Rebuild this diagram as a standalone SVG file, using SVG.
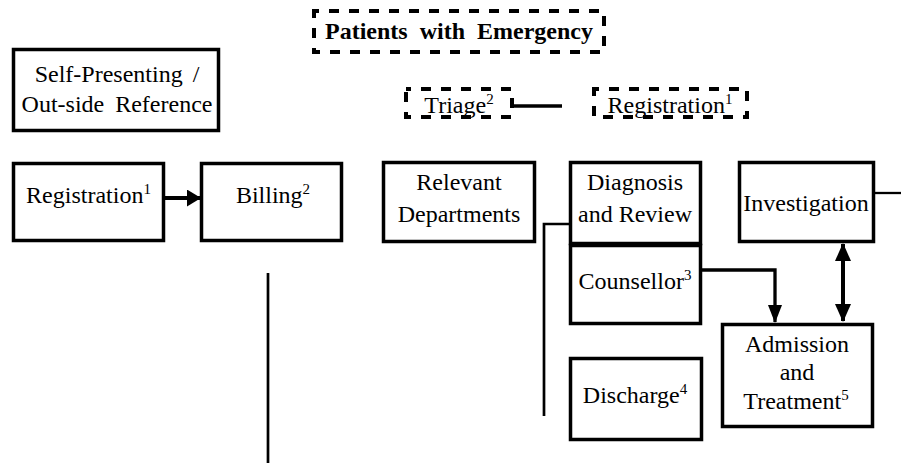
<svg xmlns="http://www.w3.org/2000/svg" width="901" height="463" viewBox="0 0 901 463">
<style>
.box{fill:#fff;stroke:#000;stroke-width:3.5}
.dash{fill:none;stroke:#000;stroke-width:4;stroke-dasharray:10 10;stroke-dashoffset:5}
text{font-family:"Liberation Serif","Times New Roman",serif;font-size:24px;fill:#000;text-anchor:middle}
.b{font-weight:bold}
.sup{font-size:15px}
.ln{fill:none;stroke:#000}
</style>
<defs>
<marker id="ah" viewBox="0 0 14 17" refX="13" refY="8.5" markerWidth="14" markerHeight="17" orient="auto" markerUnits="userSpaceOnUse">
<path d="M0,0 L14,8.5 L0,17 z" fill="#000"/>
</marker>
<marker id="dbe" viewBox="0 0 18 16" refX="17" refY="8" markerWidth="18" markerHeight="16" orient="auto" markerUnits="userSpaceOnUse">
<path d="M0,0 L18,8 L0,16 z" fill="#000"/>
</marker>
<marker id="dbs" viewBox="0 0 18 16" refX="1" refY="8" markerWidth="18" markerHeight="16" orient="auto" markerUnits="userSpaceOnUse">
<path d="M18,0 L0,8 L18,16 z" fill="#000"/>
</marker>
<marker id="ah2" viewBox="0 0 18 14" refX="17" refY="7" markerWidth="18" markerHeight="14" orient="auto" markerUnits="userSpaceOnUse">
<path d="M0,0 L18,7 L0,14 z" fill="#000"/>
</marker>
</defs>
<g id="connectors">
<line class="ln" x1="165" y1="198" x2="200" y2="198" stroke-width="4" marker-end="url(#ah)"/>
<line class="ln" x1="513" y1="106" x2="562" y2="106" stroke-width="3.5"/>
<polyline class="ln" points="569,224 544,224 544,416" stroke-width="2.7"/>
<line class="ln" x1="268" y1="273" x2="268" y2="463" stroke-width="2.7"/>
<polyline class="ln" points="702,270 775,270 775,322" stroke-width="3.3" marker-end="url(#ah2)"/>
<line class="ln" x1="843" y1="244" x2="843" y2="321" stroke-width="4" marker-start="url(#dbs)" marker-end="url(#dbe)"/>
<line class="ln" x1="875" y1="193" x2="901" y2="193" stroke-width="2.3"/>
</g>
<g id="emergency">
<rect class="dash" x="314" y="11" width="290" height="41"/>
<text class="b" x="459" y="39" word-spacing="6">Patients with Emergency</text>
</g>
<g id="self">
<rect class="box" x="13.5" y="49.5" width="205" height="81"/>
<text x="117" y="82" word-spacing="4">Self-Presenting /</text>
<text x="117" y="112" word-spacing="5">Out-side Reference</text>
</g>
<g id="triage">
<rect class="dash" x="406" y="89" width="106" height="28"/>
<text x="459" y="113">Triage<tspan class="sup" dy="-9">2</tspan></text>
</g>
<g id="registration-em">
<rect class="dash" x="594" y="89" width="153" height="28"/>
<text x="670" y="113">Registration<tspan class="sup" dy="-9">1</tspan></text>
</g>
<g id="registration">
<rect class="box" x="13.5" y="163.5" width="150" height="77"/>
<text x="88.5" y="203">Registration<tspan class="sup" dy="-9">1</tspan></text>
</g>
<g id="billing">
<rect class="box" x="201.5" y="163.5" width="140" height="77"/>
<text x="273" y="203">Billing<tspan class="sup" dy="-9">2</tspan></text>
</g>
<g id="relevant">
<rect class="box" x="383.5" y="162.5" width="151" height="79"/>
<text x="459" y="190">Relevant</text>
<text x="459" y="222">Departments</text>
</g>
<g id="diagnosis">
<rect class="box" x="570.5" y="162.5" width="130" height="81"/>
<text x="635" y="190">Diagnosis</text>
<text x="635" y="222">and Review</text>
</g>
<g id="counsellor">
<rect class="box" x="570.5" y="245.5" width="130" height="78"/>
<text x="635" y="289">Counsellor<tspan class="sup" dy="-9">3</tspan></text>
</g>
<g id="investigation">
<rect class="box" x="739.5" y="162.5" width="134" height="79"/>
<text x="806" y="211">Investigation</text>
</g>
<g id="admission">
<rect class="box" x="722.5" y="324.5" width="150" height="102"/>
<text x="797" y="352">Admission</text>
<text x="797" y="380">and</text>
<text x="796" y="409">Treatment<tspan class="sup" dy="-9">5</tspan></text>
</g>
<g id="discharge">
<rect class="box" x="570.5" y="358.5" width="131" height="81"/>
<text x="635" y="403">Discharge<tspan class="sup" dy="-9">4</tspan></text>
</g>
</svg>
